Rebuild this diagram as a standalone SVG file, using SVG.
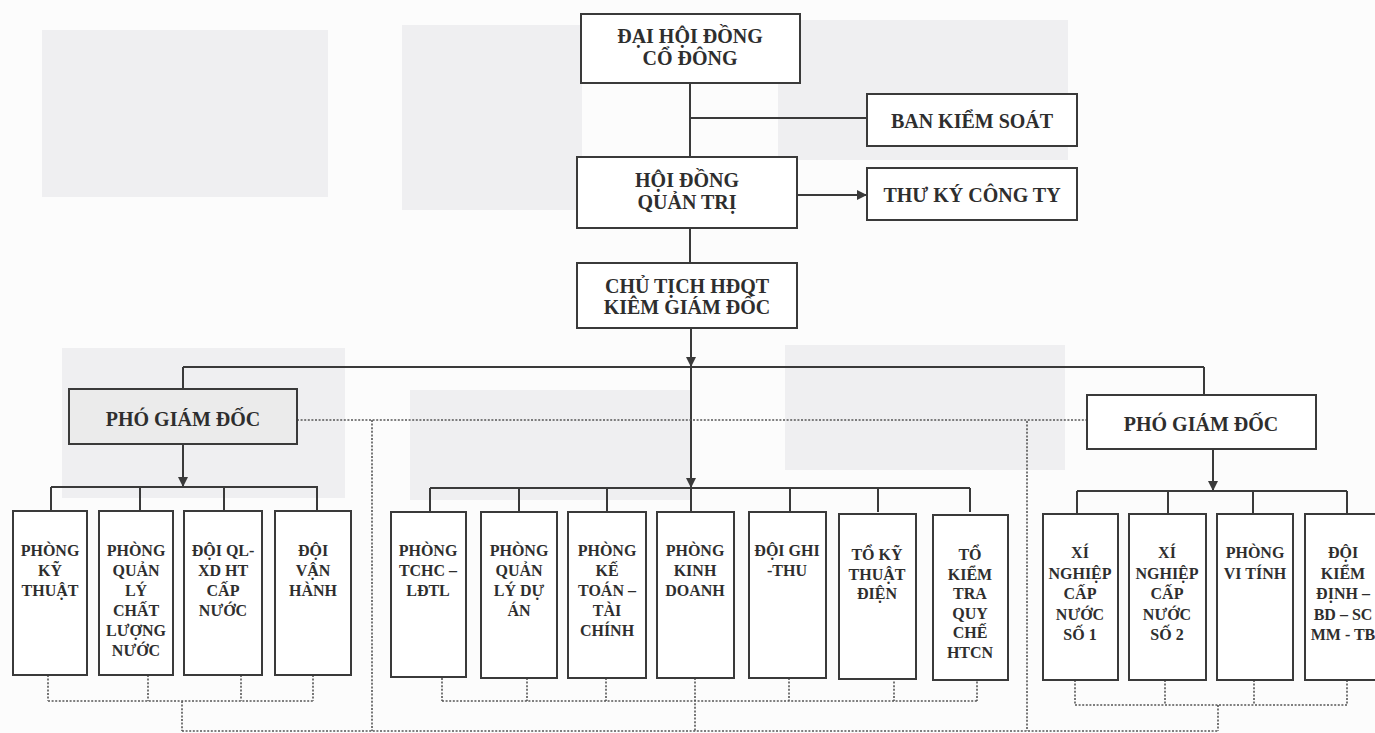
<svg xmlns="http://www.w3.org/2000/svg" width="1375" height="733" viewBox="0 0 1375 733">
<defs>
<marker id="arr" markerUnits="userSpaceOnUse" markerWidth="10" markerHeight="10" refX="10" refY="5" orient="auto">
<path d="M0,0 L10,5 L0,10 z" fill="#3a3a3a"/>
</marker>
<style>
.bg{fill:#efeff1;stroke:none}
.box{fill:#ffffff;stroke:#3a3a3a;stroke-width:2}
.gbox{fill:#ebebeb;stroke:#3a3a3a;stroke-width:2}
.ln{fill:none;stroke:#3a3a3a;stroke-width:2}
.dt{fill:none;stroke:#555;stroke-width:1.6;stroke-dasharray:2 1.6}
text{font-family:"Liberation Serif","DejaVu Serif",serif;font-weight:bold;fill:#2e2e2e;text-anchor:middle}
.t1{font-size:20px}
.t2{font-size:16px}
</style>
</defs>
<rect width="1375" height="733" fill="#fcfcfc"/>
<g id="background">
<rect class="bg" x="42" y="30" width="286" height="167"/>
<rect class="bg" x="402" y="25" width="180" height="185"/>
<rect class="bg" x="778" y="20" width="290" height="140"/>
<rect class="bg" x="62" y="348" width="283" height="150"/>
<rect class="bg" x="410" y="390" width="280" height="110"/>
<rect class="bg" x="785" y="345" width="280" height="125"/>
</g>
<g id="connectors">
<path class="ln" d="M690,83 V157"/>
<path class="ln" d="M690,118 H867"/>
<path class="ln" d="M797,195 H867" marker-end="url(#arr)"/>
<path class="ln" d="M690,228 V263"/>
<path class="ln" d="M691,328 V367" marker-end="url(#arr)"/>
<path class="ln" d="M183,367 H1204"/>
<path class="ln" d="M183,367 V389"/>
<path class="ln" d="M1204,367 V395"/>
<path class="ln" d="M691,367 V488" marker-end="url(#arr)"/>
<path class="ln" d="M183,444 V487" marker-end="url(#arr)"/>
<path class="ln" d="M1213,449 V491" marker-end="url(#arr)"/>
<path class="ln" d="M51,487 H318 M51,487 V511 M140,487 V511 M224,487 V511 M317,487 V511"/>
<path class="ln" d="M430,488 H970 M430,488 V512 M519,488 V512 M607,488 V512 M691,488 V512 M790,488 V512 M878,488 V512 M970,488 V512"/>
<path class="ln" d="M1077,491 H1347 M1077,491 V514 M1168,491 V514 M1253,491 V514 M1347,491 V514"/>
<path class="dt" d="M297,420 H1087"/>
<path class="dt" d="M372,420 V731"/>
<path class="dt" d="M1027,421 V731"/>
<path class="dt" d="M48,675 V701 M148,675 V701 M241,675 V701 M313,675 V701 M48,701 H313 M182,701 V731"/>
<path class="dt" d="M442,678 V701 M527,678 V701 M606,678 V701 M695,678 V731 M789,678 V701 M894,678 V701 M977,678 V701 M442,701 H977"/>
<path class="dt" d="M1075,680 V705 M1165,680 V705 M1254,680 V705 M1347,680 V705 M1075,705 H1347 M1218,705 V731"/>
<path class="dt" d="M182,731 H1218"/>
</g>
<g id="dhdcd"><rect class="box" x="581" y="14" width="219" height="69"/><text class="t1" x="690" y="43">ĐẠI HỘI ĐỒNG</text><text class="t1" x="690" y="65">CỔ ĐÔNG</text></g>
<g id="bks"><rect class="box" x="867" y="94" width="210" height="52"/><text class="t1" x="972" y="128">BAN KIỂM SOÁT</text></g>
<g id="hdqt"><rect class="box" x="577" y="157" width="220" height="71"/><text class="t1" x="687" y="187">HỘI ĐỒNG</text><text class="t1" x="687" y="209">QUẢN TRỊ</text></g>
<g id="tkct"><rect class="box" x="867" y="168" width="210" height="52"/><text class="t1" x="972" y="202">THƯ KÝ CÔNG TY</text></g>
<g id="ctgd"><rect class="box" x="577" y="263" width="220" height="65"/><text class="t1" x="687" y="293">CHỦ TỊCH HĐQT</text><text class="t1" x="687" y="314">KIÊM GIÁM ĐỐC</text></g>
<g id="pgd1"><rect class="gbox" x="69" y="389" width="228" height="55"/><text class="t1" x="183" y="426">PHÓ GIÁM ĐỐC</text></g>
<g id="pgd2"><rect class="box" x="1087" y="395" width="229" height="54"/><text class="t1" x="1201" y="431">PHÓ GIÁM ĐỐC</text></g>
<g id="pkt"><rect class="box" x="13" y="511" width="74" height="164"/><text class="t2" x="50" y="556">PHÒNG<tspan x="50" dy="20">KỸ</tspan><tspan x="50" dy="20">THUẬT</tspan></text></g>
<g id="pqlcln"><rect class="box" x="99" y="511" width="74" height="164"/><text class="t2" x="136" y="556">PHÒNG<tspan x="136" dy="20">QUẢN</tspan><tspan x="136" dy="20">LÝ</tspan><tspan x="136" dy="20">CHẤT</tspan><tspan x="136" dy="20">LƯỢNG</tspan><tspan x="136" dy="20">NƯỚC</tspan></text></g>
<g id="dqlxd"><rect class="box" x="184" y="511" width="78" height="164"/><text class="t2" x="223" y="556">ĐỘI QL-<tspan x="223" dy="20">XD HT</tspan><tspan x="223" dy="20">CẤP</tspan><tspan x="223" dy="20">NƯỚC</tspan></text></g>
<g id="dvh"><rect class="box" x="275" y="511" width="76" height="164"/><text class="t2" x="313" y="556">ĐỘI<tspan x="313" dy="20">VẬN</tspan><tspan x="313" dy="20">HÀNH</tspan></text></g>
<g id="ptchc"><rect class="box" x="391" y="512" width="75" height="165"/><text class="t2" x="428" y="556">PHÒNG<tspan x="428" dy="20">TCHC –</tspan><tspan x="428" dy="20">LĐTL</tspan></text></g>
<g id="pqlda"><rect class="box" x="481" y="512" width="76" height="166"/><text class="t2" x="519" y="556">PHÒNG<tspan x="519" dy="20">QUẢN</tspan><tspan x="519" dy="20">LÝ DỰ</tspan><tspan x="519" dy="20">ÁN</tspan></text></g>
<g id="pkttc"><rect class="box" x="568" y="512" width="78" height="166"/><text class="t2" x="607" y="556">PHÒNG<tspan x="607" dy="20">KẾ</tspan><tspan x="607" dy="20">TOÁN –</tspan><tspan x="607" dy="20">TÀI</tspan><tspan x="607" dy="20">CHÍNH</tspan></text></g>
<g id="pkd"><rect class="box" x="657" y="512" width="77" height="166"/><text class="t2" x="695" y="556">PHÒNG<tspan x="695" dy="20">KINH</tspan><tspan x="695" dy="20">DOANH</tspan></text></g>
<g id="dgt"><rect class="box" x="749" y="512" width="77" height="166"/><text class="t2" x="787" y="556">ĐỘI GHI<tspan x="787" dy="20">-THU</tspan></text></g>
<g id="tktd"><rect class="box" x="839" y="514" width="77" height="165"/><text class="t2" x="877" y="560">TỔ KỸ<tspan x="877" dy="19.5">THUẬT</tspan><tspan x="877" dy="19.5">ĐIỆN</tspan></text></g>
<g id="tktqc"><rect class="box" x="933" y="515" width="75" height="165"/><text class="t2" x="970" y="560">TỔ<tspan x="970" dy="19.5">KIỂM</tspan><tspan x="970" dy="19.5">TRA</tspan><tspan x="970" dy="19.5">QUY</tspan><tspan x="970" dy="19.5">CHẾ</tspan><tspan x="970" dy="19.5">HTCN</tspan></text></g>
<g id="xn1"><rect class="box" x="1043" y="514" width="75" height="166"/><text class="t2" x="1080" y="558">XÍ<tspan x="1080" dy="20.5">NGHIỆP</tspan><tspan x="1080" dy="20.5">CẤP</tspan><tspan x="1080" dy="20.5">NƯỚC</tspan><tspan x="1080" dy="20.5">SỐ 1</tspan></text></g>
<g id="xn2"><rect class="box" x="1129" y="514" width="77" height="166"/><text class="t2" x="1167" y="558">XÍ<tspan x="1167" dy="20.5">NGHIỆP</tspan><tspan x="1167" dy="20.5">CẤP</tspan><tspan x="1167" dy="20.5">NƯỚC</tspan><tspan x="1167" dy="20.5">SỐ 2</tspan></text></g>
<g id="pvt"><rect class="box" x="1217" y="514" width="76" height="166"/><text class="t2" x="1255" y="558">PHÒNG<tspan x="1255" dy="21">VI TÍNH</tspan></text></g>
<g id="dkd"><rect class="box" x="1305" y="514" width="77" height="166"/><text class="t2" x="1343" y="558">ĐỘI<tspan x="1343" dy="20.5">KIỂM</tspan><tspan x="1343" dy="20.5">ĐỊNH –</tspan><tspan x="1343" dy="20.5">BD – SC</tspan><tspan x="1343" dy="20.5">MM - TB</tspan></text></g>
</svg>
